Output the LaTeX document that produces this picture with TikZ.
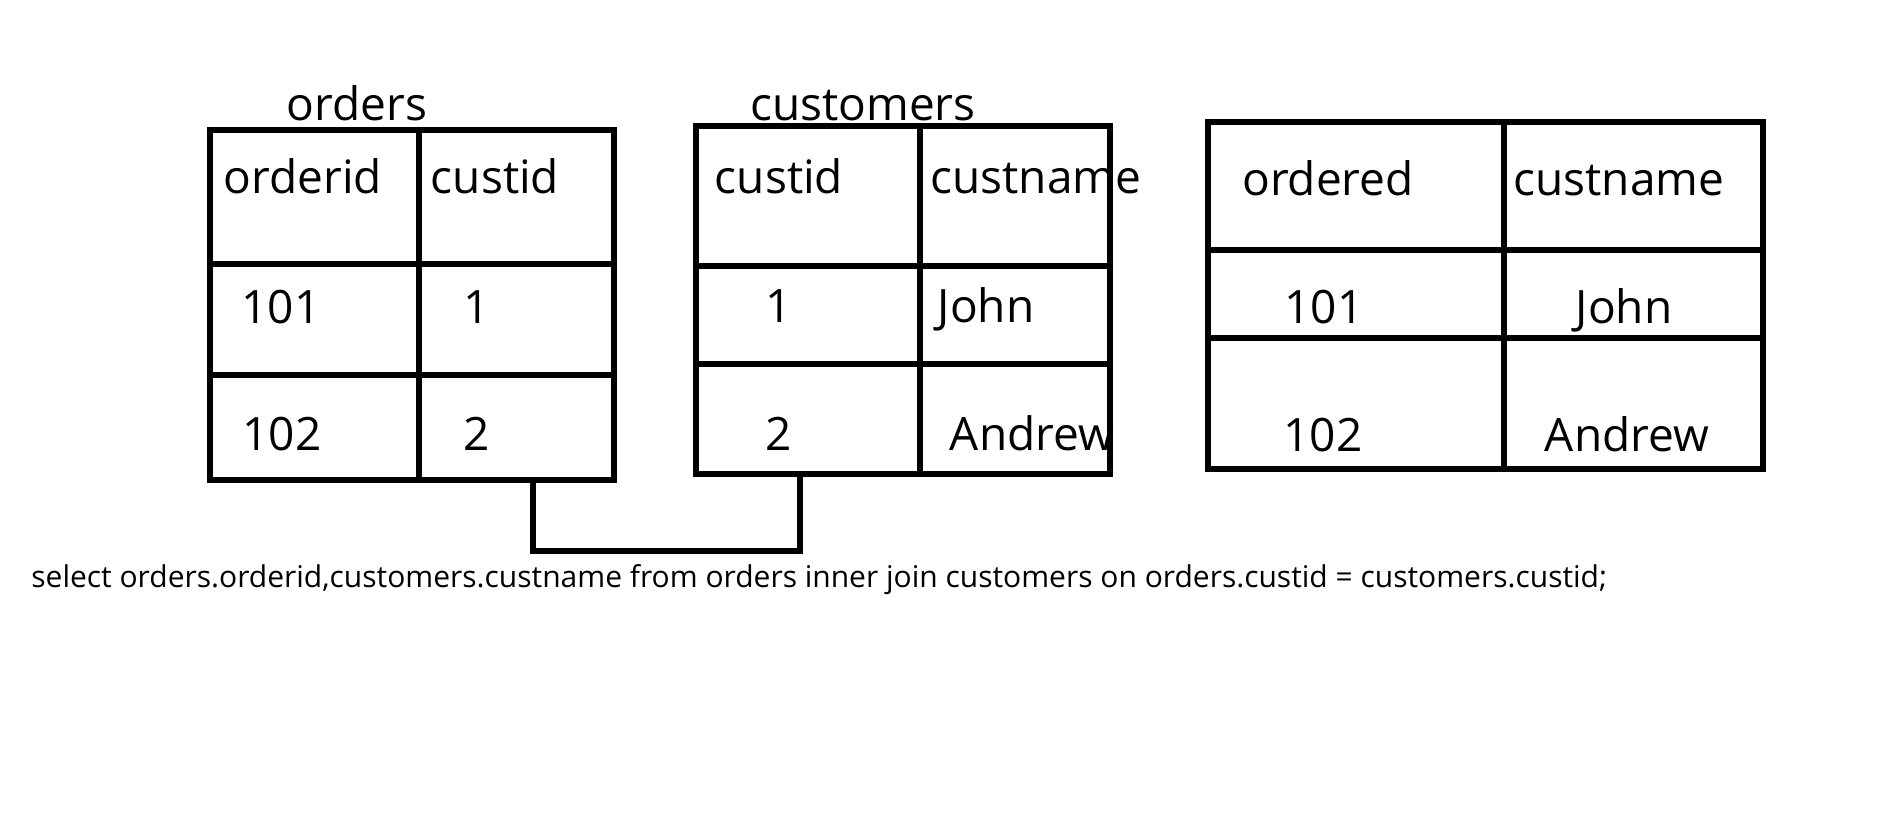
\documentclass[tikz,border=0pt]{standalone}
\usepackage{fontspec}
\setmainfont{Open Sans}
\usetikzlibrary{positioning}
\tikzset{grid/.style = {line width = 2.9pt, line cap = rect}}
\tikzset{cell/.style = {anchor = base, inner sep = 0, font = \fontsize{23}{28}\selectfont}}
\tikzset{query/.style = {anchor = base west, inner sep = 0, font = \fontsize{15}{18}\selectfont}}

\begin{document}
\begin{tikzpicture}[x = 0.5pt, y = -0.5pt]
    \useasboundingbox (0, 0) rectangle (1897, 825);

    % orders
    \node [cell] (ordtitle) at (357, 120) {orders};
    \draw [grid] (210, 130) rectangle (614, 480);
    \draw [grid] (419, 130) -- (419, 480);
    \draw [grid] (210, 264) -- (614, 264);
    \draw [grid] (210, 375) -- (614, 375);
    \node [cell] (ordid) at (303, 193) {orderid};
    \node [cell] (ordcust) at (495, 193) {custid};
    \node [cell] (ordid1) at (281, 323) {101};
    \node [cell] (ordcust1) at (477, 323) {1};
    \node [cell] (ordid2) at (282, 450) {102};
    \node [cell] (ordcust2) at (477, 450) {2};

    % customers
    \node [cell] (custtitle) at (863, 120) {customers};
    \draw [grid] (696, 126) rectangle (1110, 474);
    \draw [grid] (920, 126) -- (920, 474);
    \draw [grid] (696, 266) -- (1110, 266);
    \draw [grid] (696, 364) -- (1110, 364);
    \node [cell] (custid) at (779, 193) {custid};
    \node [cell] (custname) at (1036, 193) {custname};
    \node [cell] (custid1) at (779, 322) {1};
    \node [cell] (custname1) at (986, 322) {John};
    \node [cell] (custid2) at (779, 450) {2};
    \node [cell] (custname2) at (1032, 450) {Andrew};

    % result
    \draw [grid] (1208, 122) rectangle (1763, 469);
    \draw [grid] (1504, 122) -- (1504, 469);
    \draw [grid] (1208, 250) -- (1763, 250);
    \draw [grid] (1208, 338) -- (1763, 338);
    \node [cell] (resid) at (1328, 195) {ordered};
    \node [cell] (resname) at (1619, 195) {custname};
    \node [cell] (resid1) at (1324, 323) {101};
    \node [cell] (resname1) at (1624, 323) {John};
    \node [cell] (resid2) at (1323, 451) {102};
    \node [cell] (resname2) at (1627, 451) {Andrew};

    % join
    \coordinate (ordfoot) at (533, 480);
    \coordinate (custfoot) at (800, 474);
    \coordinate (joinbend) at (533, 551);
    \draw [grid] (ordfoot) -- (joinbend) -| (custfoot);

    \node [query] (sql) at (31, 587) {select orders.orderid,customers.custname from orders inner join customers on orders.custid = customers.custid;};
\end{tikzpicture}
\end{document}
